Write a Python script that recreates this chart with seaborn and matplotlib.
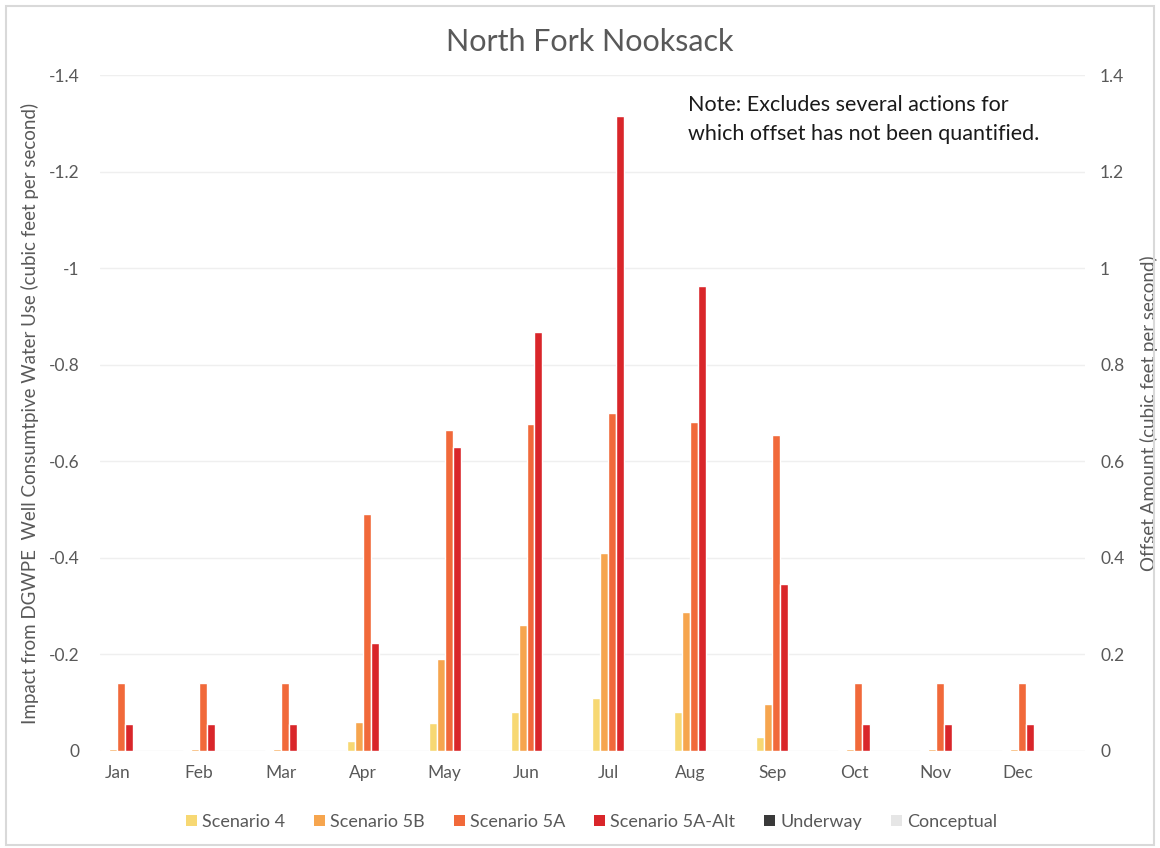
import numpy as np
import pandas as pd
import matplotlib
matplotlib.use("Agg")
import matplotlib.pyplot as plt
from matplotlib.patches import Patch, Rectangle
from matplotlib.ticker import FixedLocator
import seaborn as sns

# ---- data -------------------------------------------------------------
months = ["Jan", "Feb", "Mar", "Apr", "May", "Jun",
          "Jul", "Aug", "Sep", "Oct", "Nov", "Dec"]
scenario_4 = [0.003, 0.003, 0.003, 0.02, 0.058, 0.08, 0.11, 0.08, 0.028, 0.003, 0.003, 0.003]
scenario_5b = [0.004, 0.004, 0.004, 0.06, 0.19, 0.26, 0.41, 0.287, 0.097, 0.004, 0.004, 0.004]
scenario_5a = [0.14, 0.14, 0.14, 0.49, 0.665, 0.677, 0.70, 0.682, 0.655, 0.14, 0.14, 0.14]
scenario_5a_alt = [0.056, 0.056, 0.056, 0.224, 0.63, 0.868, 1.315, 0.963, 0.345, 0.056, 0.056, 0.056]
series_names = ["Scenario 4", "Scenario 5B", "Scenario 5A", "Scenario 5A-Alt", "Underway", "Conceptual"]
left_ticks = [0, -0.2, -0.4, -0.6, -0.8, -1, -1.2, -1.4]
right_ticks = [0, 0.2, 0.4, 0.6, 0.8, 1, 1.2, 1.4]

colors = {
    "Scenario 4": "#F7D873",
    "Scenario 5B": "#F6A54E",
    "Scenario 5A": "#F1693A",
    "Scenario 5A-Alt": "#D9262A",
    "Underway": "#3A3A3A",
    "Conceptual": "#E6E6E6",
}

df = pd.DataFrame({
    "Month": months * 4,
    "Scenario": np.repeat(series_names[:4], len(months)),
    "Offset": scenario_4 + scenario_5b + scenario_5a + scenario_5a_alt,
})

# ---- figure -----------------------------------------------------------
sns.set_style("white")
plt.rcParams["font.family"] = ["Lato", "DejaVu Sans"]
text_grey = "#595959"

fig = plt.figure(figsize=(11.6, 8.48), dpi=100)
ax = fig.add_axes([0.0862, 0.1144, 0.849, 0.797])
ax2 = ax.twinx()

# left axis: impact (negative scale running upward)
ax.set_ylim(0, -1.4)
ax.yaxis.set_major_locator(FixedLocator(left_ticks))
ax.set_yticklabels([f"{t:g}" for t in left_ticks])
ax.grid(axis="y", color="#EFEFEF", linewidth=1.0)
ax.set_axisbelow(True)

# right axis: offset bars
sns.barplot(data=df, x="Month", y="Offset", hue="Scenario", order=months,
            hue_order=series_names[:4], palette=colors, width=0.39, gap=0,
            saturation=1, errorbar=None, ax=ax2, legend=False)
ax2.set_ylim(0, 1.4)
ax2.yaxis.set_major_locator(FixedLocator(right_ticks))
ax2.set_yticklabels([f"{t:g}" for t in right_ticks])
ax2.set_xlim(-0.21, 11.82)

ax.set_xticks(range(len(months)))
ax.set_xticklabels(months)

for a in (ax, ax2):
    for s in a.spines.values():
        s.set_visible(False)
    a.tick_params(axis="both", length=0, labelsize=12.5, labelcolor=text_grey)
ax.tick_params(axis="y", pad=15)
ax.tick_params(axis="x", pad=10)
ax2.tick_params(axis="y", pad=11)
ax2.set_xlabel("")

ax.set_xlabel("")
ax.set_ylabel("Impact from DGWPE  Well Consumtpive Water Use (cubic feet per second)",
              fontsize=13.5, color=text_grey, labelpad=7)
ax2.set_ylabel("Offset Amount (cubic feet per second)", fontsize=13.5,
               color=text_grey, labelpad=11)

fig.text(0.508, 0.951, "North Fork Nooksack", ha="center", va="center",
         fontsize=22, color=text_grey)
fig.text(0.593, 0.859, "Note: Excludes several actions for\nwhich offset has not been quantified.",
         ha="left", va="center", fontsize=15.5, color="#1A1A1A", linespacing=1.55)

handles = [Patch(facecolor=colors[n], edgecolor="none", label=n) for n in series_names]
fig.legend(handles=handles, loc="center", bbox_to_anchor=(0.510, 0.031), ncol=6,
           frameon=False, fontsize=13, handlelength=0.6, handleheight=0.6,
           handletextpad=0.3, columnspacing=1.6, labelcolor=text_grey)

fig.patches.append(Rectangle((0.005, 0.003), 0.99, 0.99, transform=fig.transFigure,
                             fill=False, edgecolor="#D9D9D9", linewidth=1.5))

fig.savefig("out.png", dpi=100, facecolor="white")
